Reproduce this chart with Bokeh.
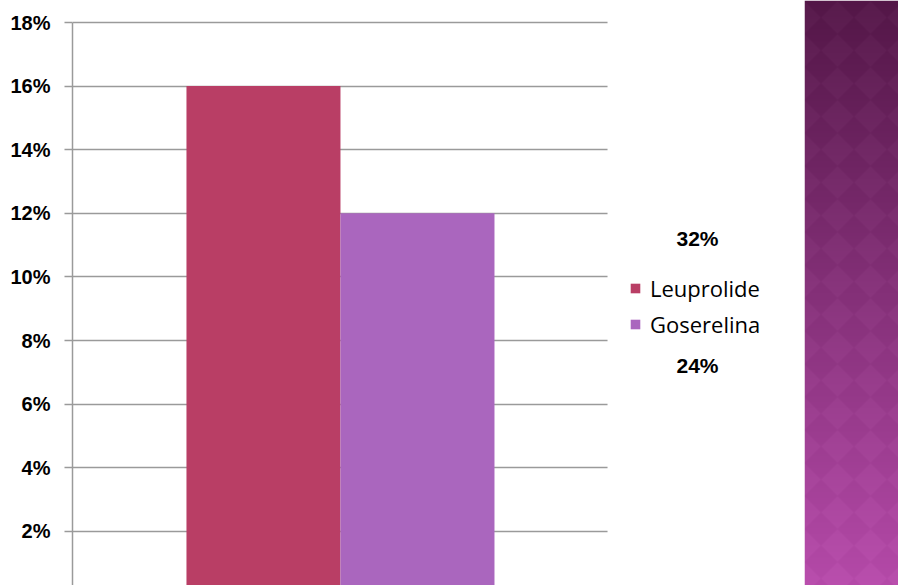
import numpy as np
from bokeh.plotting import figure
from bokeh.layouts import row
from bokeh.models import (Range1d, FixedTicker, NumeralTickFormatter, BoxAnnotation,
                          ColumnDataSource, Legend, LegendItem, Label)
from bokeh.embed import file_html
from bokeh.resources import INLINE

# ---- data ----
series = ["Leuprolide", "Goserelina"]
values = [0.16, 0.12]
colors = ["#b93e65", "#aa66be"]
y_ticks = [0.00, 0.02, 0.04, 0.06, 0.08, 0.10, 0.12, 0.14, 0.16, 0.18]
side_labels = ["32%", "24%"]

idx = list(range(len(series)))
src = ColumnDataSource(dict(x=idx, series=series, value=values, color=colors))

PX_PER_UNIT = 3181.0          # vertical scale (px per 100%)
y_end = max(y_ticks) + 22 / PX_PER_UNIT
y_start = y_end - 585 / PX_PER_UNIT

p = figure(width=804, height=585, output_backend="svg", toolbar_location=None,
           x_range=Range1d(-1.240, 3.513),
           y_range=Range1d(y_start, y_end),
           x_axis_location=None,
           min_border_left=72, min_border_right=0, min_border_top=0, min_border_bottom=0)
p.outline_line_color = None
p.background_fill_color = "white"
p.border_fill_color = "white"

p.xgrid.grid_line_color = None
p.ygrid.grid_line_color = "#9a9a9a"
p.ygrid.grid_line_width = 1.5
p.yaxis.ticker = FixedTicker(ticks=y_ticks)
p.ygrid.ticker = FixedTicker(ticks=y_ticks)
p.yaxis.bounds = (min(y_ticks), max(y_ticks))
p.yaxis.formatter = NumeralTickFormatter(format="0%")
p.yaxis.axis_line_color = "#9a9a9a"
p.yaxis.axis_line_width = 1.5
p.yaxis.major_tick_line_color = "#9a9a9a"
p.yaxis.major_tick_line_width = 1.5
p.yaxis.major_tick_out = 8
p.yaxis.major_tick_in = 0
p.yaxis.minor_tick_line_color = None
p.yaxis.major_label_standoff = 14
p.yaxis.major_label_text_font = "Liberation Sans"
p.yaxis.major_label_text_font_style = "bold"
p.yaxis.major_label_text_font_size = "20px"
p.yaxis.major_label_text_color = "black"

r = p.vbar(x="x", top="value", width=1.0, bottom=0, source=src,
           fill_color="color", line_color=None)

# white area to the right of the plotting region (gridlines stop there)
p.add_layout(BoxAnnotation(left=2.234, fill_color="white", fill_alpha=1.0, line_color=None))

legend = Legend(items=[LegendItem(label=s, renderers=[r], index=i) for i, s in enumerate(series)],
                location=(557, 246), orientation="vertical",
                background_fill_alpha=0, border_line_color=None,
                padding=0, margin=0, spacing=6,
                glyph_width=12, glyph_height=12, label_standoff=9,
                label_text_font="Open Sans", label_text_font_size="22px",
                label_text_color="black")
p.add_layout(legend, "center")

for txt, yy in zip(side_labels, [347, 220]):
    p.add_layout(Label(x=625, y=yy, x_units="screen", y_units="screen", text=txt,
                       text_align="center", text_baseline="middle",
                       text_font="Liberation Sans", text_font_style="bold",
                       text_font_size="21px", text_color="black"))

# ---- decorative side panel ----
H, W = 585, 94
yy_, xx_ = np.mgrid[0:H, 0:W].astype(float)
t = (yy_ / (H - 1))[..., None]
top = np.array([86, 25, 74], float)
bot = np.array([183, 76, 171], float)
base = top + (bot - top) * t
s = 33.0
chk = ((np.floor((xx_ + yy_) / s) + np.floor((xx_ - yy_) / s)) % 2)[..., None]
rgb = np.clip(base + (chk - 0.5) * 5, 0, 255).astype(np.uint8)
rgba = np.zeros((H, W, 4), dtype=np.uint8)
rgba[..., :3] = rgb
rgba[..., 3] = 255
img = rgba[::-1].copy().view(np.uint32).reshape(H, W)

q = figure(width=W, height=H, output_backend="svg", toolbar_location=None,
           x_range=Range1d(0, W), y_range=Range1d(0, H),
           x_axis_location=None, y_axis_location=None,
           min_border=0)
q.outline_line_color = None
q.grid.visible = False
q.image_rgba(image=[img], x=0, y=0, dw=W, dh=H)

layout = row(p, q, spacing=0)
open("out.html", "w").write(file_html(layout, INLINE))
